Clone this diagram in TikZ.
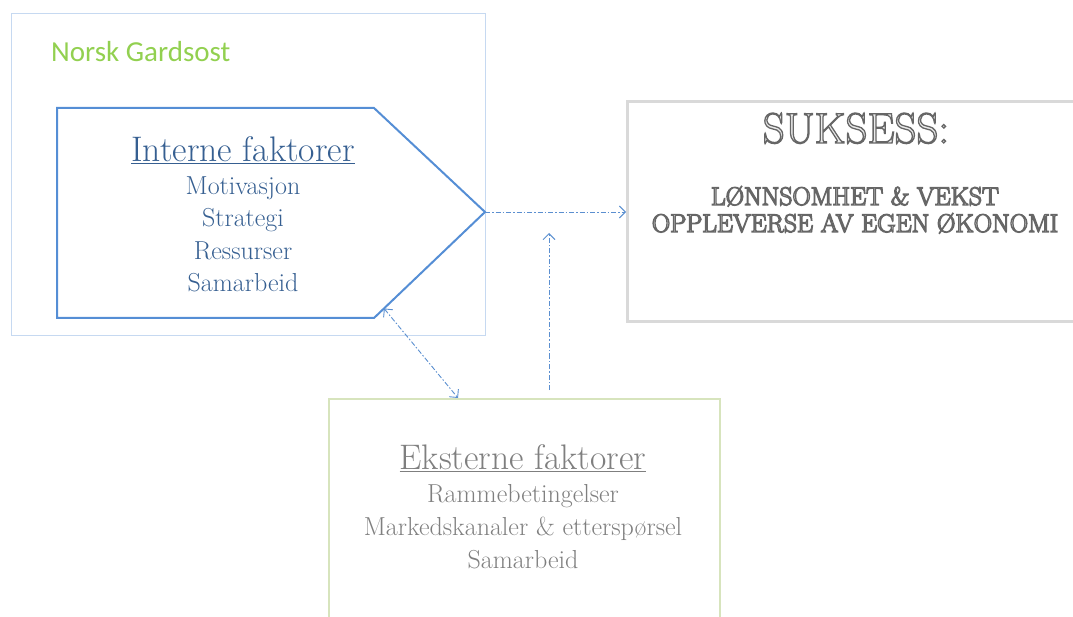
\documentclass[tikz,border=0pt]{standalone}
\usepackage{fontspec}
\newfontfamily\calibri{Carlito}
\usetikzlibrary{arrows.meta, positioning, calc}
\usepackage{xcolor}

\definecolor{framecol}{HTML}{C6D9F1}
\definecolor{pentcol}{HTML}{558ED5}
\definecolor{intcol}{HTML}{365F91}
\definecolor{gardcol}{HTML}{92D050}
\definecolor{ekscol}{HTML}{D7E4BD}
\definecolor{ekstext}{HTML}{7F7F7F}
\definecolor{sukcol}{HTML}{D9D9D9}
\definecolor{linkcol}{HTML}{5B8FD0}

% hollow letters (fill light, stroke dark)
\newcommand{\hollow}[1]{\special{pdf:literal direct 2 Tr 1.3 w 0.4 G}#1\special{pdf:literal direct 0 Tr 0.4 w}}

\begin{document}
\begin{tikzpicture}[
x=1pt, y=-1pt,
box/.style={draw, rectangle, anchor=north west, inner sep=0pt},
txt/.style={inner sep=0pt, align=center, anchor=base},
link/.style={draw=linkcol, line width=0.9pt,
  dash pattern=on 5pt off 2pt on 1.5pt off 2pt,
  -{Straight Barb[length=6pt, width=12pt]}},
pent/.style={draw=pentcol, line width=2pt, line join=miter}
]
\useasboundingbox (0,0) rectangle (1073,617);

% boxes
\node[box, draw=framecol, line width=1.2pt, minimum width=474pt, minimum height=322pt] (gard) at (11,13) {};
\node[box, draw=sukcol, line width=3pt, minimum width=470pt, minimum height=220pt] (suk) at (626,100) {};
\node[box, draw=ekscol, line width=1.5pt, minimum width=391pt, minimum height=240pt] (eks) at (328,398) {};

\node[inner sep=0pt, anchor=base west, text=gardcol, font=\calibri\fontsize{29}{34}\selectfont] (gardname) at (51,62) {Norsk Gardsost};

% internal factors
\coordinate (int-nw) at (57,108);
\coordinate (int-ne) at (374,108);
\coordinate (int-tip) at (485,212);
\coordinate (int-se) at (374,318);
\coordinate (int-sw) at (57,318);
\draw[pent] (int-nw) -- (int-ne) -- (int-tip) -- (int-se) -- (int-sw) -- cycle;

\node[txt, text=intcol, font=\fontsize{26}{32.5}\selectfont] (intern) at (243,292)
  {{\fontsize{35.5}{32.5}\selectfont\underline{Interne faktorer}}\\
   Motivasjon\\ Strategi\\ Ressurser\\ Samarbeid};

% external factors
\node[txt, text=ekstext, font=\fontsize{26}{32.7}\selectfont] (ekstern) at (523,568)
  {{\fontsize{35.5}{32.7}\selectfont\underline{Eksterne faktorer}}\\
   Rammebetingelser\\ Markedskanaler \& etterspørsel\\ Samarbeid};

% connectors
\coordinate (vtop) at (549,233);
\draw[link] (int-tip) -- (int-tip -| suk.west);
\draw[link] ([yshift=8pt]eks.north -| vtop) -- (vtop);
\draw[link, {Straight Barb[length=6pt, width=12pt]}-{Straight Barb[length=6pt, width=12pt]}]
  ($(int-se)!0.09!(int-tip)$) -- ([xshift=130pt]eks.north west);

% success
\node[txt, text=white!92!black, font=\fontsize{43}{45}\selectfont] (sukhead) at (856,143) {\hollow{SUKSESS:}};
\node[txt, text=white!92!black, font=\fontsize{25.5}{27}\selectfont] (sukbody) at (855,232)
  {\hollow{LØNNSOMHET \& VEKST}\\ \hollow{OPPLEVERSE AV EGEN ØKONOMI}};

\end{tikzpicture}
\end{document}
